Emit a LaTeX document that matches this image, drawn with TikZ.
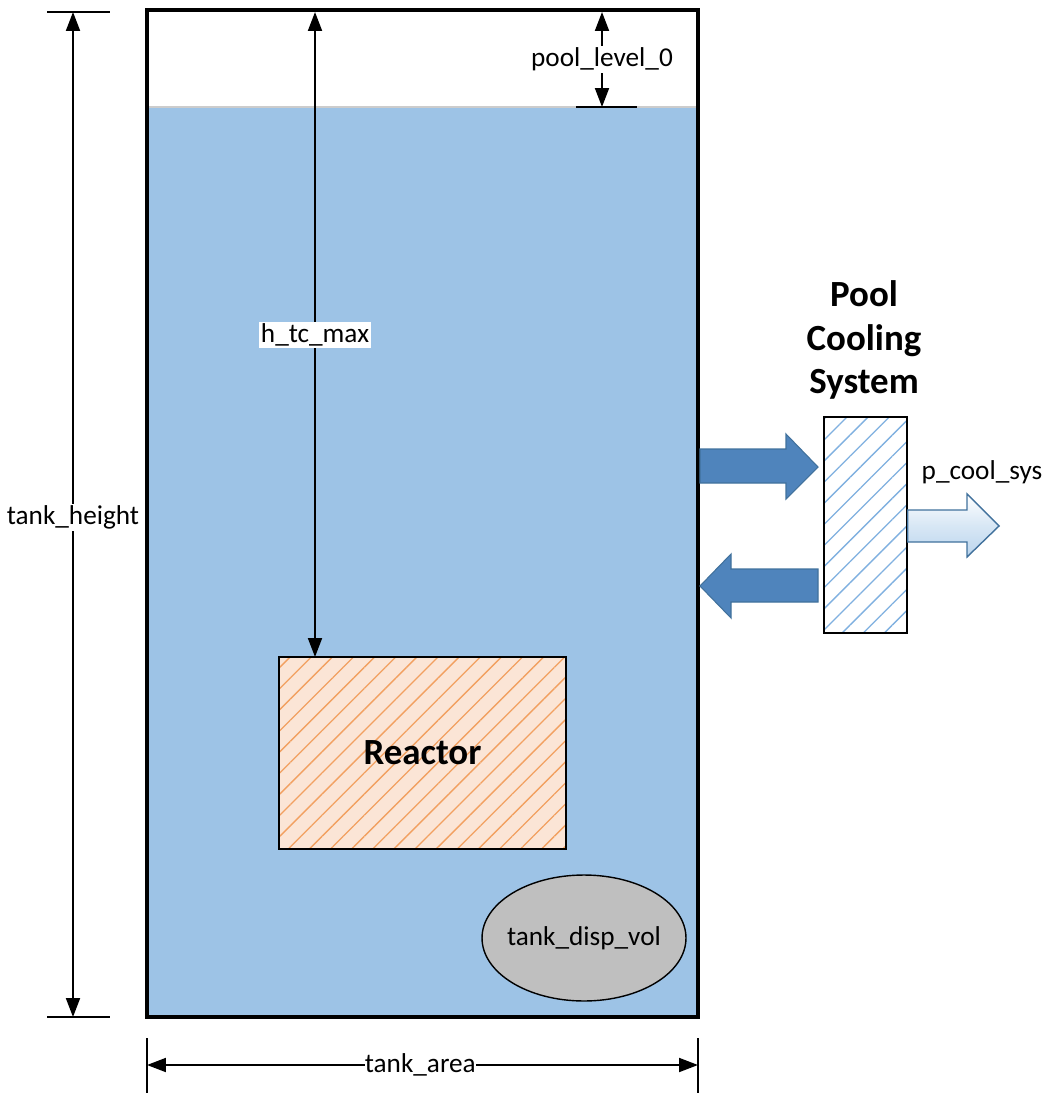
\documentclass[tikz,border=0pt]{standalone}
\usepackage{fontspec}
\setmainfont{Carlito}
\usepackage{tikz}
\usetikzlibrary{arrows.meta,positioning,shapes.geometric,patterns.meta,calc}

\definecolor{water}{HTML}{9DC3E6}
\definecolor{reactfill}{HTML}{FBE5D6}
\definecolor{reacthatch}{HTML}{F2A060}
\definecolor{coolhatch}{HTML}{7FB0E0}
\definecolor{pipe}{HTML}{4F84BC}
\definecolor{pipeedge}{HTML}{41719C}
\definecolor{dispgray}{HTML}{BFBFBF}

\begin{document}
\begin{tikzpicture}[x=0.02cm, y=-0.02cm,
		every node/.style={font=\fontsize{15.5}{18}\selectfont},
		dim/.style={{Triangle[length=0.38cm,width=0.28cm]}-{Triangle[length=0.38cm,width=0.28cm]}, line width=1.1pt},
		tick/.style={line width=1.1pt},
		dimlabel/.style={fill=white, inner sep=1pt},
		bold/.style={font=\fontsize{21}{24.7}\selectfont\bfseries, align=center},
		pipearrow/.style={fill=pipe, draw=pipeedge, line width=0.6pt}]

	\useasboundingbox (0,0) rectangle (1046,1095);

	% pool water and tank
	\fill[water] (147,107) rectangle (698,1017);
	\draw[black!20, line width=1pt] (149,107) -- (696,107);
	\node[draw, line width=2.3pt, minimum width=11.02cm, minimum height=20.14cm, inner sep=0pt] (tank) at (422.5,513.5) {};

	% reactor
	\node[draw, line width=0.8pt, preaction={fill=reactfill},
		pattern={Lines[angle=45,distance=8.5pt,line width=0.75pt]}, pattern color=reacthatch,
		minimum width=5.74cm, minimum height=3.84cm, inner sep=0pt] (reactor) at (422.5,753) {};
	\node[bold] (reactortext) at (reactor.center) {Reactor};

	% displaced volume
	\node[draw, ellipse, fill=dispgray, line width=0.8pt, inner sep=0pt, minimum width=4.08cm, minimum height=2.52cm] (disp) at (584,938) {};
	\node (disptext) at (disp.center) {tank\_disp\_vol};

	% pool cooling system
	\node[draw, line width=0.8pt, preaction={fill=white},
		pattern={Lines[angle=45,distance=8.5pt,line width=0.75pt]}, pattern color=coolhatch,
		minimum width=1.66cm, minimum height=4.32cm, inner sep=0pt] (cooler) at (865.5,525) {};
	\node[bold] (coolertext) at (864,340) {Pool\\Cooling\\System};

	% flow to and from the cooler
	\fill[pipearrow] (tank.east |- 0,449) -- (786,449) -- (786,434) -- (818,467) -- (786,499) -- (786,483) -- (tank.east |- 0,483) -- cycle;
	\fill[pipearrow] (818,569) -- (731,569) -- (731,554) -- (tank.east |- 0,586) -- (731,618) -- (731,602) -- (818,602) -- cycle;
	\draw[draw=pipeedge, line width=0.8pt, top color=white, bottom color=water!70, middle color=water!40]
		(cooler.east |- 0,510) -- (967,510) -- (967,494) -- (999,526) -- (967,557) -- (967,542) -- (cooler.east |- 0,542) -- cycle;
	\node (pcool) at (982,472) {p\_cool\_sys};

	% tank height
	\coordinate (th1) at (73,12);
	\coordinate (th2) at (73,1017);
	\draw[tick] (47,12) -- (110,12);
	\draw[tick] (47,1017) -- (110,1017);
	\draw[dim] (th1) -- (th2) node[dimlabel, pos=0.503] (thlabel) {tank\_height};

	% height above core
	\coordinate (hc1) at (315,12);
	\coordinate (hc2) at (315,657);
	\draw[tick] (287,657) -- (349,657);
	\draw[dim] (hc1) -- (hc2) node[dimlabel, pos=0.501] (hclabel) {h\_tc\_max};

	% initial pool level
	\coordinate (pl1) at (602,12);
	\coordinate (pl2) at (602,107);
	\draw[tick] (576,107) -- (637,107);
	\draw[dim] (pl1) -- (pl2) node[dimlabel, pos=0.5] (pllabel) {pool\_level\_0};

	% tank area
	\coordinate (ta1) at (147,1065);
	\coordinate (ta2) at (698,1065);
	\draw[line width=0.8pt] (147,1038) -- (147,1093);
	\draw[line width=0.8pt] (698,1038) -- (698,1093);
	\draw[dim] (ta1) -- (ta2) node[dimlabel, pos=0.496, inner sep=0pt] (talabel) {tank\_area};

\end{tikzpicture}
\end{document}
